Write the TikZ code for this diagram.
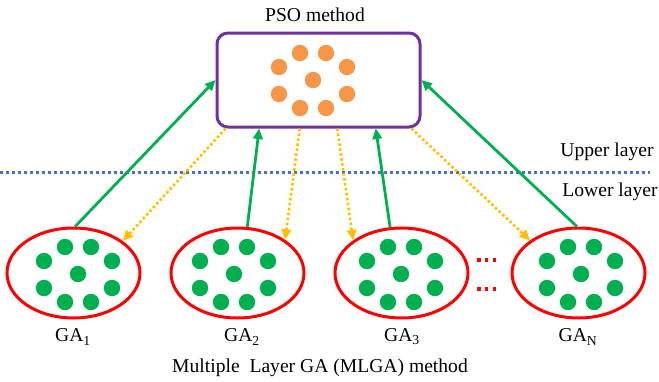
\documentclass[tikz,border=0pt]{standalone}
\usepackage{fontspec}
\setmainfont{Liberation Serif}
\usetikzlibrary{arrows.meta,shapes.geometric,calc}

\definecolor{psopurple}{RGB}{112,48,160}
\definecolor{psoorange}{RGB}{247,150,70}
\definecolor{gagreen}{RGB}{0,176,80}
\definecolor{gared}{RGB}{255,0,0}
\definecolor{layerblue}{RGB}{68,114,196}
\definecolor{feedgold}{RGB}{255,192,0}

\tikzset{
  lbl/.style={font=\fontsize{19.6}{22}\selectfont, inner sep=0pt},
  psobox/.style={draw=psopurple, line width=3pt, rounded corners=11pt,
    minimum width=203pt, minimum height=94pt, inner sep=0pt},
  gapool/.style={ellipse, draw=gared, line width=3pt,
    minimum width=133pt, minimum height=90pt, inner sep=0pt},
  upflow/.style={draw=gagreen, line width=2.8pt,
    -{Triangle[length=10.5pt,width=9.5pt]}},
  downflow/.style={draw=feedgold, line width=2.6pt, dash pattern=on 2.6pt off 2.4pt,
    -{Triangle[length=10.5pt,width=9.5pt,sep=0pt]}},
}

% nine particles in a ring around a central one
\newcommand{\swarm}[3]{%
  \foreach \dx/\dy in {-13/-27,13/-27,-34/-13,34/-13,0/0,-34/14,34/14,-13/28,13/28}
    \fill[#3] ($(#1,#2)+(\dx,\dy)$) circle[radius=8.2pt];
}

\begin{document}
\begin{tikzpicture}[x=1pt,y=-1pt]
\useasboundingbox (0,0) rectangle (659,381);

% upper layer: PSO
\node[lbl] (psotitle) at (315,15) {PSO method};
\node[psobox] (pso) at (318.5,80) {};
\swarm{313}{80}{psoorange}

% layer separator
\draw[layerblue, line width=3pt, dash pattern=on 3pt off 3pt] (0,172) -- (650,172);
\node[lbl] (upper) at (607,152) {Upper layer};
\node[lbl] (lower) at (610,192) {Lower layer};

% lower layer: GA populations
\node[gapool] (ga1) at (73.5,273) {};
\node[gapool] (ga2) at (237.5,273) {};
\node[gapool] (ga3) at (401.5,273) {};
\node[gapool] (gaN) at (578.5,273) {};
\swarm{78}{274}{gagreen}
\swarm{234}{274}{gagreen}
\swarm{401}{274}{gagreen}
\swarm{581}{274}{gagreen}

\node[lbl] (l1) at (73,337) {GA\textsubscript{1}};
\node[lbl] (l2) at (242,337) {GA\textsubscript{2}};
\node[lbl] (l3) at (402,337) {GA\textsubscript{3}};
\node[lbl] (lN) at (578,337) {GA\textsubscript{N}};
\node[lbl] (mlga) at (320,368) {Multiple\ \ Layer GA (MLGA) method};

% ellipsis between GA3 and GAN
\foreach \yy in {260,289}
  \foreach \xx in {479,486.7,494.3}
    \fill[gared] (\xx-1.6,\yy-1.6) rectangle (\xx+1.6,\yy+1.6);

% GA -> PSO (green) and PSO -> GA (gold dotted)
\draw[upflow] (ga1.88) -- (pso.west);
\draw[upflow] (ga2.78) -- ($(pso.south west)!0.212!(pso.south east)$);
\draw[upflow] (ga3.104) -- ($(pso.south west)!0.778!(pso.south east)$);
\draw[upflow] (gaN.92) -- (pso.east);

\draw[downflow] ($(pso.south west)!0.049!(pso.south east)$) -- (ga1.33);
\draw[downflow] ($(pso.south west)!0.409!(pso.south east)$) -- (ga2.35);
\draw[downflow] ($(pso.south west)!0.591!(pso.south east)$) -- (ga3.146);
\draw[downflow] ($(pso.south west)!0.951!(pso.south east)$) -- (gaN.146);
\end{tikzpicture}
\end{document}
